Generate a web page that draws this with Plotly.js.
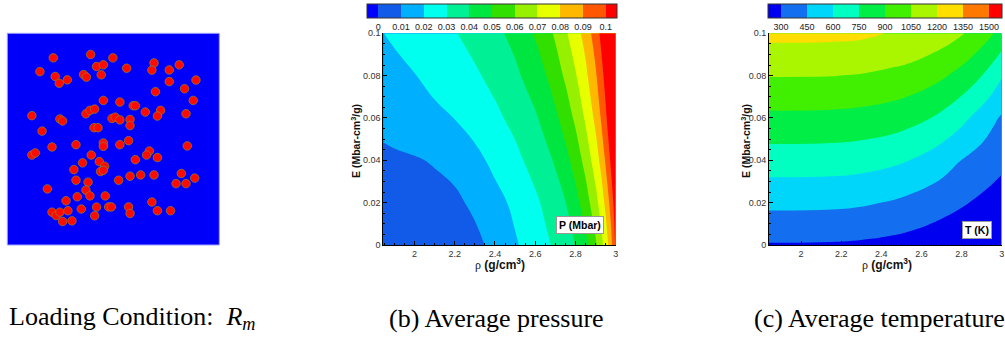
<!DOCTYPE html>
<html>
<head>
<meta charset="utf-8">
<script src="https://cdn.plot.ly/plotly-3.0.1.min.js"></script>
<style>html,body{margin:0;padding:0;background:#fff;}#chart{width:1005px;height:344px;}</style>
</head>
<body>
<div id="chart"></div>
<script>
// ---------- data ----------
// (a) particle centres, in % of the square (x from left, y from bottom)
const particleX = [21.7,39.3,49.8,15.4,22.6,24.5,28.3,36.0,37.3,42.1,45.3,44.3,56.3,69.2,68.2,76.4,81.1,76.4,89.0,83.6,69.9,87.7,45.3,53.1,59.4,60.4,65.1,72.3,70.8,84.3,11.6,24.8,26.1,37.1,39.0,41.2,49.4,50.9,53.1,57.9,57.9,16.4,40.9,42.8,21.1,32.4,45.3,45.3,53.1,57.2,84.9,11.6,13.2,39.6,35.5,43.4,45.9,44.0,45.3,31.4,67.0,65.7,70.8,60.4,32.4,38.1,52.5,57.9,62.9,69.2,82.1,88.4,79.6,84.3,18.9,37.1,39.0,46.2,33.0,27.7,68.2,21.1,23.0,24.8,28.6,34.9,42.1,47.8,49.1,57.2,57.9,41.2,26.1,30.5,70.8,77.0];
const particleY = [88.4,90.0,88.4,81.9,79.6,76.4,78.0,80.5,79.3,84.3,85.1,80.4,83.5,86.0,82.6,82.7,85.1,77.2,77.9,73.8,72.4,68.3,68.3,67.5,65.8,65.8,62.8,63.6,60.9,62.0,61.1,59.5,58.6,62.0,63.6,64.2,59.8,60.4,59.1,59.3,56.4,53.8,55.4,55.4,46.3,47.4,48.2,46.6,47.4,49.3,46.8,42.5,43.5,42.5,38.8,39.4,37.2,34.7,35.3,35.6,44.4,42.5,41.3,40.3,30.6,29.7,30.6,32.5,33.1,33.1,33.8,31.6,29.0,29.0,26.5,25.9,23.2,23.2,22.8,20.9,20.3,15.5,13.9,15.5,16.2,17.0,17.9,18.0,18.0,18.0,14.9,13.8,11.1,11.4,16.2,16.2];

// (b) average pressure P (Mbar) on a (rho, E) grid
const rhoP = [1.84,1.9,2.0,2.1,2.2,2.3,2.4,2.5,2.6,2.65,2.7,2.75,2.8,2.85,2.9,2.925,2.95,2.975,3.0];
const eP = [0,0.02,0.04,0.06,0.08,0.1];
const pressure = [
  [0.0020,0.0025,0.0033,0.0043,0.0058,0.0075,0.0127,0.0189,0.0250,0.0281,0.0316,0.0359,0.0403,0.0473,0.0584,0.0658,0.0744,0.0858,0.1021],
  [0.0053,0.0055,0.0060,0.0070,0.0081,0.0119,0.0168,0.0221,0.0283,0.0318,0.0358,0.0398,0.0465,0.0551,0.0666,0.0737,0.0824,0.0932,0.1063],
  [0.0082,0.0086,0.0093,0.0107,0.0131,0.0172,0.0225,0.0275,0.0336,0.0371,0.0411,0.0469,0.0540,0.0634,0.0750,0.0821,0.0912,0.1012,0.1112],
  [0.0123,0.0136,0.0158,0.0180,0.0202,0.0241,0.0279,0.0327,0.0388,0.0431,0.0480,0.0543,0.0619,0.0713,0.0824,0.0900,0.0983,0.1067,0.1150],
  [0.0163,0.0176,0.0197,0.0226,0.0256,0.0286,0.0328,0.0379,0.0451,0.0494,0.0552,0.0615,0.0691,0.0776,0.0886,0.0958,0.1033,0.1109,0.1185],
  [0.0198,0.0213,0.0240,0.0267,0.0295,0.0334,0.0375,0.0431,0.0509,0.0560,0.0614,0.0686,0.0756,0.0838,0.0950,0.1016,0.1082,0.1147,0.1213]
];

// (c) average temperature T (K) on a (rho, E) grid
const rhoT = [1.84,2.15,2.3,2.46,2.55,2.63,2.71,2.79,2.85,2.91,2.96,3.0];
const eT = [0,0.02,0.04,0.06,0.08,0.1];
const temperature = [
  [289,286,277,259,243,226,207,187,172,157,144,135],
  [486,481,468,438,411,384,352,320,295,270,250,235],
  [676,672,659,627,596,560,513,454,418,384,356,334],
  [867,863,851,823,793,759,711,649,590,530,472,434],
  [1056,1053,1042,1016,990,958,915,859,806,740,674,612],
  [1242,1238,1229,1190,1182,1153,1119,1069,1021,962,903,847]
];

// levels and tick labels
const pLevels = [0,0.01,0.02,0.03,0.04,0.05,0.06,0.07,0.08,0.09,0.1];
const pLevelLabels = ['0','0.01','0.02','0.03','0.04','0.05','0.06','0.07','0.08','0.09','0.1'];
const tLevels = [300,450,600,750,900,1050,1200,1350,1500];
const tLevelLabels = ['300','450','600','750','900','1050','1200','1350','1500'];
const rhoTicks = [2,2.2,2.4,2.6,2.8,3];
const rhoTickLabels = ['2','2.2','2.4','2.6','2.8','3'];
const eTicks = [0,0.02,0.04,0.06,0.08,0.1];
const eTickLabels = ['0','0.02','0.04','0.06','0.08','0.1'];
const captions = ['Loading Condition:&nbsp;&nbsp;<i>R</i><sub><i>m</i></sub>', '(b) Average pressure', '(c) Average temperature'];

// ---------- style ----------
const W = 1005, H = 344;
const px = v => v / W, py = v => 1 - v / H;
const SANS = 'Liberation Sans, Arial, sans-serif';
const SERIF = 'Liberation Serif, Times New Roman, serif';

const pColors = ['rgb(0,0,255)','rgb(18,90,232)','rgb(0,176,255)','rgb(0,255,238)','rgb(0,240,150)','rgb(0,230,64)','rgb(50,224,0)','rgb(150,240,0)','rgb(232,255,0)','rgb(255,184,0)','rgb(255,88,0)','rgb(255,0,0)'];
const tColors = ['rgb(0,0,240)','rgb(20,110,240)','rgb(0,214,250)','rgb(0,255,192)','rgb(0,238,70)','rgb(64,240,0)','rgb(170,245,0)','rgb(255,222,0)','rgb(255,120,0)','rgb(255,0,0)'];
const scale = cols => cols.map((c, i) => [i / (cols.length - 1), c]);

const plotTop = 33.3, plotBot = 245;
const yDom = [py(plotBot), py(plotTop)];

const traces = [
  {
    type: 'scatter', mode: 'markers', x: particleX, y: particleY, xaxis: 'x3', yaxis: 'y3',
    marker: {size: 8.5, color: 'rgb(255,10,0)', line: {color: 'rgb(140,120,50)', width: 0.8}},
    hoverinfo: 'skip', showlegend: false
  },
  {
    type: 'contour', x: rhoP, y: eP, z: pressure, xaxis: 'x', yaxis: 'y',
    contours: {start: pLevels[0], end: pLevels[pLevels.length - 1], size: 0.01, coloring: 'fill', showlines: false},
    line: {width: 0, smoothing: 1.3},
    colorscale: scale(pColors), showscale: true,
    colorbar: {
      orientation: 'h', lenmode: 'pixels', len: 250, thickness: 14,
      x: px(492), xanchor: 'center', y: py(4), yanchor: 'top', xpad: 0, ypad: 0,
      outlinewidth: 1, outlinecolor: '#333', ticks: '',
      tickmode: 'array', tickvals: pLevels, ticktext: pLevelLabels,
      tickfont: {family: SANS, size: 9, color: '#222'}
    },
    hoverinfo: 'skip'
  },
  {
    type: 'contour', x: rhoT, y: eT, z: temperature, xaxis: 'x2', yaxis: 'y2',
    contours: {start: tLevels[0], end: tLevels[tLevels.length - 1], size: 150, coloring: 'fill', showlines: false},
    line: {width: 0, smoothing: 1.3},
    colorscale: scale(tColors), showscale: true,
    colorbar: {
      orientation: 'h', lenmode: 'pixels', len: 234, thickness: 14,
      x: px(885), xanchor: 'center', y: py(4), yanchor: 'top', xpad: 0, ypad: 0,
      outlinewidth: 1, outlinecolor: '#333', ticks: '',
      tickmode: 'array', tickvals: tLevels, ticktext: tLevelLabels,
      tickfont: {family: SANS, size: 9, color: '#222'}
    },
    hoverinfo: 'skip'
  }
];

const tickFont = {family: SANS, size: 9, color: '#333'};
function xAx(domain, range, anchor) {
  return {
    domain: domain, range: range, anchor: anchor, tickmode: 'array', tickvals: rhoTicks, ticktext: rhoTickLabels,
    ticks: 'inside', ticklen: 4, tickcolor: '#000', tickwidth: 1, showline: true, linecolor: '#000', linewidth: 1,
    showgrid: false, zeroline: false, tickfont: tickFont,
    minor: {tick0: 2, dtick: 0.05, ticks: 'inside', ticklen: 2, tickcolor: '#000', showgrid: false}
  };
}
function yAx(anchor) {
  return {
    domain: yDom, range: [0, 0.1], anchor: anchor, tickmode: 'array', tickvals: eTicks, ticktext: eTickLabels,
    ticks: 'inside', ticklen: 4, tickcolor: '#000', tickwidth: 1, showline: true, linecolor: '#000', linewidth: 1,
    showgrid: false, zeroline: false, tickfont: tickFont,
    minor: {tick0: 0, dtick: 0.005, ticks: 'inside', ticklen: 2, tickcolor: '#000', showgrid: false}
  };
}

const yTitle = 'E (Mbar-cm<sup>3</sup>/g)';
const xTitle = '<span style="font-family:Liberation Serif;font-weight:normal">ρ</span> <b>(g/cm<sup>3</sup>)</b>';
const annotations = [
  {x: px(355), y: py(141), text: '<b>' + yTitle + '</b>', textangle: -90},
  {x: px(745), y: py(141), text: '<b>' + yTitle + '</b>', textangle: -90},
  {x: px(500), y: py(263.5), text: xTitle, font: {family: SANS, size: 12, color: '#111'}},
  {x: px(887), y: py(263.5), text: xTitle, font: {family: SANS, size: 12, color: '#111'}},
  {x: px(579.5), y: py(224.5), text: '<b>P (Mbar)</b>', bgcolor: '#fff', bordercolor: '#999', borderwidth: 1, borderpad: 2, font: {family: SANS, size: 10.5, color: '#000'}},
  {x: px(976.5), y: py(229.5), text: '<b>T (K)</b>', bgcolor: '#fff', bordercolor: '#999', borderwidth: 1, borderpad: 2, font: {family: SANS, size: 10.5, color: '#000'}},
  {x: px(7), y: py(318), xanchor: 'left', text: captions[0], font: {family: SERIF, size: 26, color: '#000'}},
  {x: px(387), y: py(318), xanchor: 'left', text: captions[1], font: {family: SERIF, size: 26, color: '#000'}},
  {x: px(752), y: py(318), xanchor: 'left', text: captions[2], font: {family: SERIF, size: 26, color: '#000'}}
].map(a => Object.assign({xref: 'paper', yref: 'paper', showarrow: false, xanchor: 'center', yanchor: 'middle',
  font: {family: SANS, size: 10.5, color: '#111'}}, a));

const layout = {
  width: W, height: H, margin: {l: 0, r: 0, t: 0, b: 0, pad: 0},
  paper_bgcolor: '#fff', plot_bgcolor: 'rgba(0,0,0,0)', showlegend: false,
  xaxis: xAx([px(383.3), px(615.7)], [1.845, 3], 'y'),
  yaxis: yAx('x'),
  xaxis2: xAx([px(769), px(1001.7)], [1.84, 3], 'y2'),
  yaxis2: yAx('x2'),
  xaxis3: {domain: [px(7.3), px(219.3)], range: [0, 100], visible: false, anchor: 'y3', fixedrange: true},
  yaxis3: {domain: [py(245), py(33.3)], range: [0, 100], visible: false, anchor: 'x3', fixedrange: true},
  shapes: [{type: 'rect', xref: 'x3 domain', yref: 'y3 domain', x0: 0, x1: 1, y0: 0, y1: 1,
    fillcolor: 'rgb(0,0,250)', line: {color: 'rgb(160,160,255)', width: 1}, layer: 'below'}],
  annotations: annotations
};

Plotly.newPlot('chart', traces, layout, {staticPlot: true, displayModeBar: false});
</script>
</body>
</html>
